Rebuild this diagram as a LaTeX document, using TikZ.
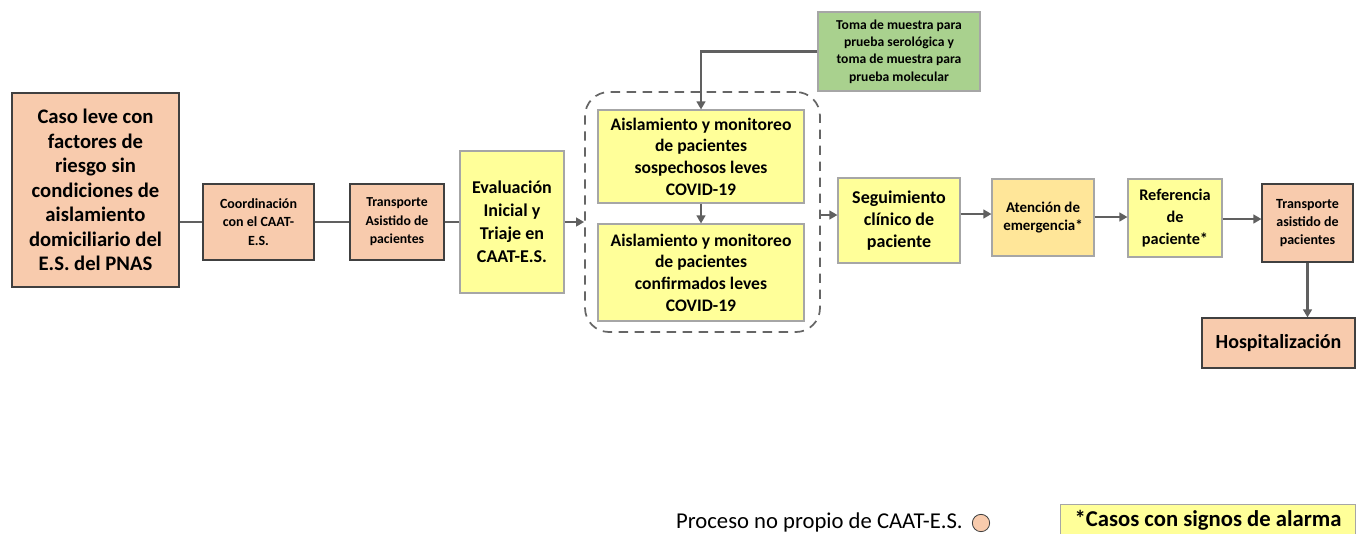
\documentclass[tikz,border=0pt]{standalone}
\usepackage{fontspec}
\setmainfont{Carlito}
\usetikzlibrary{arrows.meta}
\definecolor{peach}{HTML}{F8CBAD}
\definecolor{yel}{HTML}{FFFF99}
\definecolor{orng}{HTML}{FFE699}
\definecolor{grn}{HTML}{A9D18E}
\definecolor{ln}{HTML}{606060}
\definecolor{dk}{HTML}{404040}
\definecolor{gb}{HTML}{A6A6A6}
\tikzset{
  box/.style={rectangle, align=center, font=\bfseries, inner sep=1pt, line width=0.8pt},
  pbox/.style={box, fill=peach, draw=dk},
  ybox/.style={box, fill=yel, draw=gb},
  obox/.style={box, fill=orng, draw=gb},
  gbox/.style={box, fill=grn, draw=gb},
  conn/.style={draw=ln, line width=2.2pt},
  arr/.style={conn, -{Triangle[length=6pt,width=6.5pt]}},
}
\begin{document}
\begin{tikzpicture}[x=0.75pt,y=-0.75pt]
\useasboundingbox (0,0) rectangle (1357,533);
\node[pbox, minimum width=125.25pt, minimum height=145.5pt, font=\bfseries\fontsize{15.5}{18.4}\selectfont] (caso) at (95.5,190) {Caso leve con\\factores de\\riesgo sin\\condiciones de\\aislamiento\\domiciliario del\\E.S. del PNAS};
\node[pbox, minimum width=83.25pt, minimum height=57pt, font=\bfseries\fontsize{10.5}{13.8}\selectfont] (coord) at (258.5,222) {Coordinación\\con el CAAT-\\E.S.};
\node[pbox, minimum width=70.5pt, minimum height=57pt, font=\bfseries\fontsize{10.3}{13.8}\selectfont] (tr1) at (397,222) {Transporte\\Asistido de\\pacientes};
\node[ybox, minimum width=78pt, minimum height=106.5pt, font=\bfseries\fontsize{13.5}{17.3}\selectfont] (eval) at (512,222) {Evaluación\\Inicial y\\Triaje en\\CAAT-E.S.};
\node[draw=dk!80, dashed, dash pattern=on 7pt off 5pt, line width=1.3pt, rounded corners=18pt, minimum width=176.25pt, minimum height=180pt] (cont) at (702.5,212) {};
\node[ybox, minimum width=154.5pt, minimum height=69.75pt, font=\bfseries\fontsize{13.2}{16.2}\selectfont] (ais1) at (701,156.5) {Aislamiento y monitoreo\\de pacientes\\sospechosos leves\\COVID-19};
\node[ybox, minimum width=154.5pt, minimum height=72.75pt, font=\bfseries\fontsize{13.2}{16.2}\selectfont] (ais2) at (701,272.5) {Aislamiento y monitoreo\\de pacientes\\confirmados leves\\COVID-19};
\node[gbox, minimum width=121.5pt, minimum height=59.25pt, font=\bfseries\fontsize{10.2}{13}\selectfont] (toma) at (899,51.5) {Toma de muestra para\\prueba serológica y\\toma de muestra para\\prueba molecular};
\node[ybox, minimum width=91.5pt, minimum height=63.75pt, font=\bfseries\fontsize{13.5}{16.5}\selectfont] (seg) at (899,220.5) {Seguimiento\\clínico de\\paciente};
\node[obox, minimum width=76.5pt, minimum height=57.75pt, font=\bfseries\fontsize{11.2}{13}\selectfont] (aten) at (1043,217.5) {Atención de\\emergencia*};
\node[ybox, minimum width=70.5pt, minimum height=58.5pt, font=\bfseries\fontsize{12.2}{16.5}\selectfont] (ref) at (1175,218) {Referencia\\de\\paciente*};
\node[pbox, minimum width=68.25pt, minimum height=58.5pt, font=\bfseries\fontsize{10.5}{13.5}\selectfont] (tr2) at (1307.5,223) {Transporte\\asistido de\\pacientes};
\node[pbox, minimum width=114.75pt, minimum height=37.5pt, font=\bfseries\fontsize{15}{17}\selectfont] (hosp) at (1278.5,343) {Hospitalización};
% connectors
\draw[conn] (caso.east |- coord.west) -- (coord.west);
\draw[conn] (coord.east) -- (tr1.west);
\draw[conn] (tr1.east) -- (eval.west |- tr1.east);
\draw[arr] (eval.east) -- (cont.west |- eval.east);
\draw[arr] (ais1.south) -- (ais2.north);
\draw[arr] (toma.west) -| (ais1.north);
\draw[arr] (cont.east |- 0,215) -- (seg.west |- 0,215);
\draw[arr] (seg.east |- 0,214) -- (aten.west |- 0,214);
\draw[arr] (aten.east |- 0,217) -- (ref.west |- 0,217);
\draw[arr] (ref.east |- 0,219) -- (tr2.west |- 0,219);
\draw[arr] (tr2.south) -- (tr2.south |- hosp.north);
% legend
\node[anchor=east, font=\fontsize{17}{19}\selectfont, inner sep=0pt] (leg1) at (963,522) {Proceso no propio de CAAT-E.S.};
\node[circle, fill=peach, draw=dk, line width=0.6pt, minimum size=13pt, inner sep=0pt] (legc) at (981,523) {};
\node[ybox, anchor=north west, minimum width=221.25pt, minimum height=24.75pt, font=\bfseries\fontsize{17}{19}\selectfont] (leg2) at (1060,503.5) {*Casos con signos de alarma};
\end{tikzpicture}
\end{document}
